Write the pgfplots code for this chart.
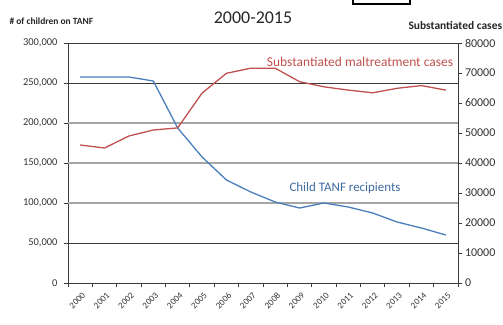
\documentclass[border=0pt]{standalone}
\usepackage{pgfplots}
\pgfplotsset{compat=1.18}
\usepackage{fontspec}
\setmainfont{Carlito}
\definecolor{tanfblue}{HTML}{4A7EBB}
\definecolor{malred}{HTML}{C0504D}
\definecolor{gridgray}{HTML}{A6A6A6}
\definecolor{axisdark}{HTML}{3A3A3A}
\begin{document}
\begin{tikzpicture}[x=1bp,y=1bp]
\begin{axis}[
  at={(0,0)}, anchor=south west, scale only axis,
  width=390bp, height=240bp,
  xmin=-0.5, xmax=15.5, ymin=0, ymax=300000,
  axis line style={axisdark, line width=0.9pt},
  xtick={0,...,15},
  xticklabels={2000,2001,2002,2003,2004,2005,2006,2007,2008,2009,2010,2011,2012,2013,2014,2015},
  major x tick style={draw=none},
  minor xtick={-0.5,0.5,...,15.5},
  minor x tick style={axisdark, line width=0.8pt},
  minor tick length=4bp,
  xtick pos=bottom, ytick pos=left,
  tick align=outside,
  major tick length=4bp,
  ytick={0,50000,...,300000},
  y tick style={axisdark, line width=0.8pt},
  scaled y ticks=false,
  /pgf/number format/fixed,
  /pgf/number format/1000 sep={,},
  /pgf/number format/assume math mode=true,
  yticklabel style={font=\fontsize{10.5}{12}\selectfont, text=black!80, xshift=-3bp},
  xticklabel style={font=\fontsize{9}{10}\selectfont, text=black!80, rotate=45, anchor=north east, inner sep=0.5bp, yshift=-4bp, xshift=-2bp},
  clip=false,
]
\draw[gridgray, line width=1.8pt] (axis cs:-0.5,100000) -- (axis cs:15.5,100000);
\draw[gridgray, line width=1.8pt] (axis cs:-0.5,150000) -- (axis cs:15.5,150000);
\draw[gridgray, line width=1.8pt] (axis cs:-0.5,200000) -- (axis cs:15.5,200000);
\draw[axisdark, line width=0.9pt] (axis cs:-0.5,50000) -- (axis cs:15.5,50000);
\draw[axisdark, line width=0.9pt] (axis cs:-0.5,250000) -- (axis cs:15.5,250000);
\addplot[tanfblue, line width=1.3pt, mark=none, line join=round] coordinates {
(0,257500) (1,257500) (2,257500) (3,252500) (4,193750) (5,157500) (6,128750) (7,113750)
(8,101250) (9,93750) (10,100000) (11,95000) (12,87500) (13,76250) (14,68750) (15,60000)};
\end{axis}
\begin{axis}[
  at={(0,0)}, anchor=south west, scale only axis,
  width=390bp, height=240bp,
  xmin=-0.5, xmax=15.5, ymin=0, ymax=80000,
  axis x line=none,
  axis y line*=right,
  axis line style={axisdark, line width=0.9pt},
  ytick={0,10000,...,80000},
  tick align=outside, major tick length=3.5bp,
  y tick style={axisdark, line width=0.8pt},
  scaled y ticks=false,
  /pgf/number format/fixed,
  /pgf/number format/1000 sep={},
  /pgf/number format/assume math mode=true,
  yticklabel style={font=\fontsize{12}{13}\selectfont, text=black!80, xshift=0bp},
  clip=false,
]
\addplot[malred, line width=1.3pt, mark=none, line join=round] coordinates {
(0,46000) (1,45000) (2,49000) (3,51000) (4,51700) (5,63300) (6,69900) (7,71600)
(8,71600) (9,67100) (10,65400) (11,64300) (12,63400) (13,64900) (14,65800) (15,64300)};
\end{axis}
\node[font=\fontsize{18}{20}\selectfont, text=black!85] at (185,265) {2000-2015};
\node[font=\bfseries\fontsize{9.5}{10}\selectfont, text=black!85, anchor=west] at (-62,262) {\# of children on TANF};
\node[font=\bfseries\fontsize{11.5}{12}\selectfont, text=black!85, anchor=west] at (337,257) {Substantiated cases};
\node[font=\fontsize{13.5}{14}\selectfont, text=malred] at (292,221) {Substantiated maltreatment cases};
\node[font=\fontsize{13}{14}\selectfont, text=tanfblue!85!black] at (277,95) {Child TANF recipients};
\draw[black, line width=1.6pt] (285,279) rectangle (342,295);
\pgfresetboundingbox
\useasboundingbox (-68,-41) rectangle (435,283);
\end{tikzpicture}
\end{document}
